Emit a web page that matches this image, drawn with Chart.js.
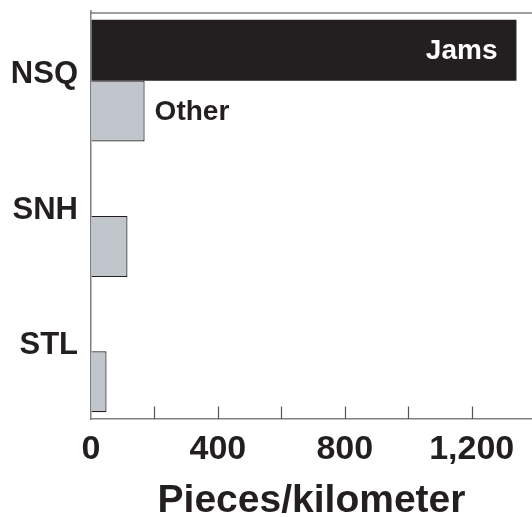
<!DOCTYPE html>
<html>
<head>
<meta charset="utf-8">
<script src="https://cdn.jsdelivr.net/npm/chart.js@4"></script>
<style>
  html, body { margin: 0; padding: 0; background: #fff; }
  #wrap { width: 532px; height: 517px; position: relative; }
</style>
</head>
<body>
<div id="wrap"><canvas id="debrisChart"></canvas></div>
<script>
// Data
const sites = ['NSQ', 'SNH', 'STL'];
const jams = [1341, 0, 0];
const other = [169, 115, 49];
const seriesNames = ['Jams', 'Other'];
const xTicks = [0, 200, 400, 600, 800, 1000, 1200];

const ink = '#231f20';
const axisGrey = '#808080';
const fontFamily = '"Liberation Sans", Arial, Helvetica, sans-serif';

// small upward tick marks, top frame line and bar labels
const decorations = {
    id: 'decorations',
    afterDraw(chart) {
        const ctx = chart.ctx;
        const area = chart.chartArea;
        const xScale = chart.scales.x;
        ctx.save();
        ctx.strokeStyle = axisGrey;
        ctx.lineWidth = 1.5;
        ctx.beginPath();
        ctx.moveTo(area.left, area.top);
        ctx.lineTo(area.right, area.top);
        ctx.moveTo(area.left, area.top - 3);
        ctx.lineTo(area.left, area.top);
        ctx.stroke();

        ctx.strokeStyle = '#555';
        ctx.lineWidth = 1.2;
        ctx.beginPath();
        xScale.ticks.forEach(function(t) {
            if (t.value === 0) return;
            const px = Math.round(xScale.getPixelForValue(t.value)) + 0.5;
            ctx.moveTo(px, area.bottom);
            ctx.lineTo(px, area.bottom - 12.5);
        });
        ctx.stroke();

        ctx.font = 'bold 28px ' + fontFamily;
        ctx.textBaseline = 'middle';
        const jamBar = chart.getDatasetMeta(0).data[0];
        ctx.fillStyle = '#ffffff';
        ctx.textAlign = 'right';
        ctx.fillText(seriesNames[0], jamBar.x - 19, jamBar.y + 1);

        const otherBar = chart.getDatasetMeta(1).data[0];
        ctx.fillStyle = ink;
        ctx.textAlign = 'left';
        ctx.fillText(seriesNames[1], otherBar.x + 10, otherBar.y + 1);
        ctx.restore();
    }
};

const ctx = document.getElementById('debrisChart').getContext('2d');
new Chart(ctx, {
    type: 'bar',
    data: {
        labels: sites,
        datasets: [{
            label: seriesNames[0],
            data: jams,
            backgroundColor: ink,
            borderWidth: 0
        }, {
            label: seriesNames[1],
            data: other,
            backgroundColor: '#c1c5cc',
            borderColor: ink,
            borderWidth: 1.2
        }]
    },
    options: {
        indexAxis: 'y',
        responsive: true,
        maintainAspectRatio: false,
        animation: false,
        layout: {
            padding: { top: 13, right: 0, left: 0, bottom: 0 }
        },
        datasets: {
            bar: {
                categoryPercentage: 0.9,
                barPercentage: 1.0
            }
        },
        plugins: {
            legend: { display: false },
            tooltip: { enabled: false }
        },
        scales: {
            x: {
                min: 0,
                max: 1390,
                grid: { display: true, drawOnChartArea: false, drawTicks: false },
                border: { color: axisGrey, width: 1.5 },
                afterBuildTicks: function(scale) {
                    scale.ticks = xTicks.map(function(v) { return { value: v }; });
                },
                ticks: {
                    autoSkip: false,
                    maxRotation: 0,
                    padding: 10,
                    color: ink,
                    font: { family: fontFamily, size: 34, weight: 'bold', lineHeight: 1.2 },
                    callback: function(value) {
                        return value % 400 === 0 ? value.toLocaleString('en-US') : '';
                    }
                },
                title: {
                    display: true,
                    text: 'Pieces/kilometer',
                    color: ink,
                    font: { family: fontFamily, size: 39, weight: 'bold', lineHeight: 1 },
                    padding: { top: 0, bottom: -4 }
                },
                afterFit: function(scale) {
                    scale.height = 98;
                    scale.paddingLeft = 0;
                    scale.paddingRight = 0;
                }
            },
            y: {
                grid: { display: true, drawOnChartArea: false, drawTicks: false },
                border: { color: axisGrey, width: 1.5 },
                ticks: {
                    padding: 13,
                    labelOffset: -6,
                    color: ink,
                    font: { family: fontFamily, size: 31, weight: 'bold' }
                },
                afterFit: function(scale) {
                    scale.width = 91;
                    scale.paddingTop = 0;
                    scale.paddingBottom = 0;
                }
            }
        }
    },
    plugins: [decorations]
});
</script>
</body>
</html>
